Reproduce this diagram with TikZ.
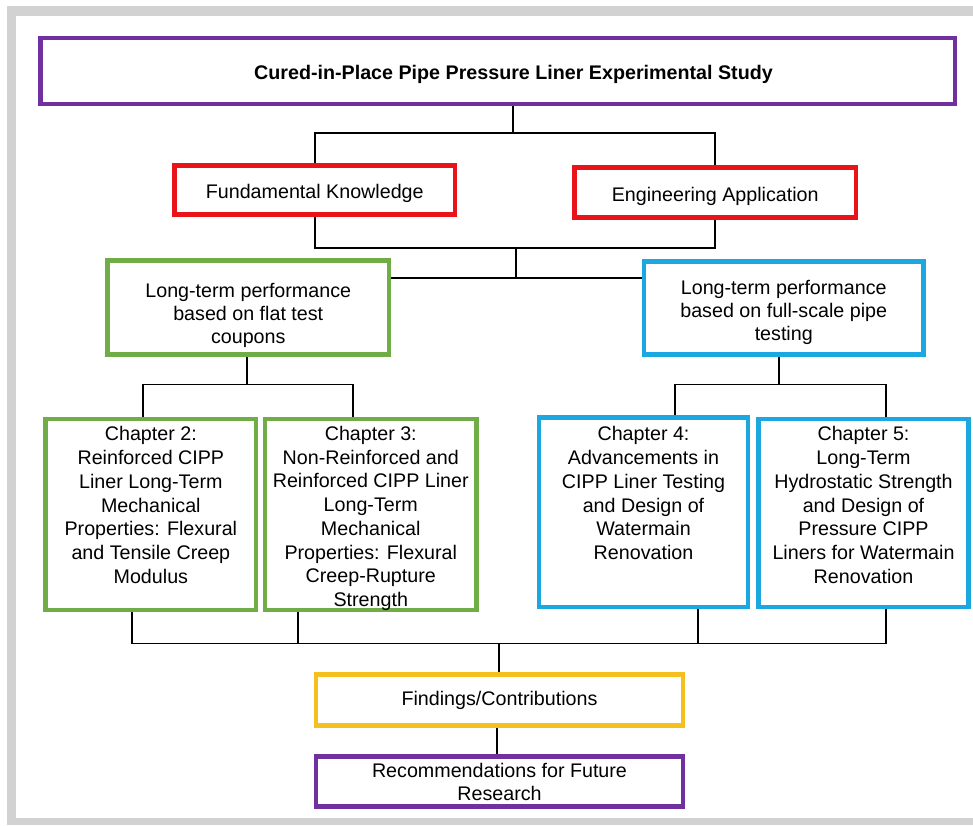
\documentclass[tikz,border=0pt]{standalone}
\usepackage{fontspec}
\setmainfont{Liberation Sans}
\usepackage{tikz}

\definecolor{studypurple}{HTML}{7030A0}
\definecolor{studyred}{HTML}{E8141A}
\definecolor{studygreen}{HTML}{70AD47}
\definecolor{studyblue}{HTML}{1BA8E0}
\definecolor{studyyellow}{HTML}{F5C01E}
\definecolor{framegray}{HTML}{D2D2D2}

\def\px{0.025cm}

\begin{document}
\begin{tikzpicture}[x=0.025cm, y=-0.025cm,
    box/.style={draw, line width=3.3pt, inner sep=0pt, fill=white},
    txt/.style={font=\fontsize{14}{16.6}\selectfont, align=center, inner sep=0pt},
    chtxt/.style={txt, font=\fontsize{14}{16.9}\selectfont, anchor=north},
    oneline/.style={text height=15.6pt, text depth=2.85pt},
    link/.style={line width=1.4pt}]
  \useasboundingbox (0,0) rectangle (973,825);
  \fill[white] (0,0) rectangle (973,825);

  % grey frame
  \fill[framegray] (7,6) rectangle (973,16);
  \fill[framegray] (7,6) rectangle (16,825);
  \fill[framegray] (7,818) rectangle (973,825);

  % title and the two branches
  \node[box, draw=studypurple, minimum width=914.5*\px, minimum height=66*\px] (title) at (497.75,71) {};
  \node[txt, oneline, font=\fontsize{14}{16.6}\selectfont\bfseries] (titletxt) at (513.5,71) {Cured-in-Place Pipe Pressure Liner Experimental Study};

  \node[box, txt, oneline, draw=studyred, minimum width=280.5*\px, minimum height=49*\px] (fk) at (314.75,190) {Fundamental Knowledge};
  \node[box, txt, oneline, draw=studyred, minimum width=281.5*\px, minimum height=50*\px] (ea) at (715.25,192.5) {Engineering Application};

  \node[box, draw=studygreen, minimum width=281.5*\px, minimum height=94*\px] (flat) at (248.25,307.8) {};
  \node[txt, anchor=north, yshift=-24*\px] (flattxt) at (flat.north) {Long-term performance\\based on flat test\\coupons};
  \node[box, draw=studyblue, minimum width=279.5*\px, minimum height=93*\px] (full) at (783.75,308.3) {};
  \node[txt, anchor=north, yshift=-20*\px] (fulltxt) at (full.north) {Long-term performance\\based on full-scale pipe\\testing};

  % chapters
  \node[box, draw=studygreen, minimum width=210.3*\px, minimum height=191*\px] (ch2) at (150.85,514.5) {};
  \node[box, draw=studygreen, minimum width=211.5*\px, minimum height=191*\px] (ch3) at (370.75,514.5) {};
  \node[box, draw=studyblue, minimum width=209*\px, minimum height=189.5*\px] (ch4) at (643.5,512.25) {};
  \node[box, draw=studyblue, minimum width=210*\px, minimum height=188*\px] (ch5) at (863.5,513) {};

  \node[chtxt, yshift=-9.5*\px] (ch2txt) at (ch2.north) {Chapter 2:\\Reinforced CIPP\\Liner Long-Term\\Mechanical\\Properties: Flexural\\and Tensile Creep\\Modulus};
  \node[chtxt, yshift=-9*\px] (ch3txt) at (ch3.north) {Chapter 3:\\Non-Reinforced and\\Reinforced CIPP Liner\\Long-Term\\Mechanical\\Properties: Flexural\\Creep-Rupture\\Strength};
  \node[chtxt, yshift=-11*\px] (ch4txt) at (ch4.north) {Chapter 4:\\Advancements in\\CIPP Liner Testing\\and Design of\\Watermain\\Renovation};
  \node[chtxt, yshift=-9.5*\px] (ch5txt) at (ch5.north) {Chapter 5:\\Long-Term\\Hydrostatic Strength\\and Design of\\Pressure CIPP\\Liners for Watermain\\Renovation};

  % outcome
  \node[box, txt, draw=studyyellow, minimum width=367*\px, minimum height=51*\px] (find) at (499.5,700.3) {Findings/Contributions};
  \node[box, txt, draw=studypurple, minimum width=367*\px, minimum height=50*\px] (rec) at (499.5,781.7) {Recommendations for Future\\Research};

  % connectors
  \coordinate (j1) at (513,133);
  \coordinate (j2) at (516,248);
  \coordinate (j3) at (516,278);
  \draw[link] (title.south -| j1) -- (j1);
  \draw[link] (fk.north) |- (j1) -| (ea.north);
  \draw[link] (fk.south) |- (j2) -| (ea.south);
  \draw[link] (j2) -- (j3);
  \draw[link] (flat.east |- j3) -- (full.west |- j3);

  \coordinate (j4) at (247,384.5);
  \coordinate (c2t) at (143,384.5);
  \coordinate (c3t) at (353,384.5);
  \draw[link] (flat.south -| j4) -- (j4);
  \draw[link] (ch2.north -| c2t) -- (c2t) -- (c3t) -- (ch3.north -| c3t);

  \coordinate (j5) at (779,384.5);
  \coordinate (c4t) at (675,384.5);
  \coordinate (c5t) at (886,384.5);
  \draw[link] (full.south -| j5) -- (j5);
  \draw[link] (ch4.north -| c4t) -- (c4t) -- (c5t) -- (ch5.north -| c5t);

  \coordinate (b2) at (131.7,643.5);
  \coordinate (b3) at (298.3,643.5);
  \coordinate (b4) at (698.3,643.5);
  \coordinate (b5) at (885.7,643.5);
  \coordinate (j6) at (499.3,643.5);
  \coordinate (j7) at (496.7,725.8);
  \draw[link] (ch2.south -| b2) -- (b2) -- (b5) -- (ch5.south -| b5);
  \draw[link] (ch3.south -| b3) -- (b3);
  \draw[link] (ch4.south -| b4) -- (b4);
  \draw[link] (j6) -- (find.north -| j6);
  \draw[link] (find.south -| j7) -- (rec.north -| j7);
\end{tikzpicture}
\end{document}
